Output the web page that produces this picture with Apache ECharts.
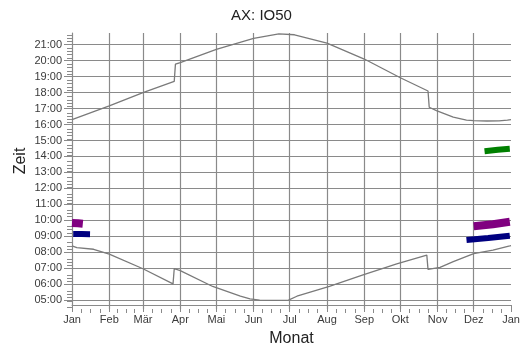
<!DOCTYPE html>
<html>
<head>
<meta charset="utf-8">
<script src="https://cdn.jsdelivr.net/npm/echarts@6/dist/echarts.min.js"></script>
<style>
html,body{margin:0;padding:0;background:#fff;}
#chart{width:523px;height:352px;}
</style>
</head>
<body>
<div id="chart"></div>
<script>
// Month axis (day of year)
const months = ['Jan','Feb','Mär','Apr','Mai','Jun','Jul','Aug','Sep','Okt','Nov','Dez','Jan'];
const monthStarts = [0,31,59,90,120,151,181,212,243,273,304,334,365];
// Hour axis
const hourTicks = [5,6,7,8,9,10,11,12,13,14,15,16,17,18,19,20,21];
const hourLabels = ['05:00','06:00','07:00','08:00','09:00','10:00','11:00','12:00','13:00','14:00','15:00','16:00','17:00','18:00','19:00','20:00','21:00'];

// Upper gray curve (sunset)
const sunsetDays  = [0, 31, 59, 85, 86, 90, 120, 151, 172, 185, 212, 243, 273, 296, 297, 303, 317, 328, 334, 345, 355, 362, 365];
const sunsetTimes = [16.31, 17.17, 18.0, 18.70, 19.78, 19.88, 20.70, 21.40, 21.67, 21.62, 21.09, 20.10, 18.93, 18.10, 17.08, 16.87, 16.46, 16.28, 16.25, 16.22, 16.23, 16.28, 16.31];

// Lower gray curve (sunrise)
const sunriseDays  = [0, 4, 18, 31, 59, 84, 85, 90, 117, 140, 148, 156, 168, 180, 187, 214, 242, 270, 295, 296, 306, 317, 334, 350, 364, 365];
const sunriseTimes = [8.40, 8.29, 8.19, 7.88, 6.97, 6.02, 6.97, 6.85, 5.86, 5.25, 5.08, 5.0, 4.99, 5.0, 5.25, 5.86, 6.59, 7.27, 7.82, 6.93, 7.06, 7.41, 7.92, 8.13, 8.40, 8.42];

// Coloured event bands
const purpleLeftDays = [0, 5, 9];
const purpleLeft     = [9.84, 9.82, 9.79];
const navyLeftDays   = [1, 8, 15];
const navyLeft       = [9.14, 9.14, 9.13];
const purpleRightDays = [334, 350, 364];
const purpleRight     = [9.63, 9.76, 9.91];
const navyRightDays   = [328, 346, 364];
const navyRight       = [8.77, 8.90, 9.04];
const greenRightDays  = [343, 354, 364];
const greenRight      = [14.33, 14.42, 14.48];

const xMinor = [];
for (let i = 0; i < 12; i++) {
  const a = monthStarts[i], len = monthStarts[i+1] - a;
  for (let k = 1; k < 4; k++) xMinor.push(a + k * len / 4);
}
const yMinor = [];
for (let i = 24; i <= 108; i++) { if (i % 5 !== 0) yMinor.push(i / 5); }

const FONT = 'Liberation Sans, Arial, sans-serif';
const GRAY = '#8a8a8a';
const YMIN = 4.7, YMAX = 21.73;
const gridRect = {left: 72, right: 12, top: 33, bottom: 43};

function pairs(xs, ys){ return xs.map((d,i)=>[d, ys[i]]); }
function band(xs, ys, color, w){
  return {type:'line', xAxisIndex:0, yAxisIndex:0, data:pairs(xs,ys), showSymbol:false, silent:true,
    lineStyle:{color:color, width:w, cap:'butt'}, z:4};
}

const chart = echarts.init(document.getElementById('chart'), null, {renderer:'canvas'});
chart.setOption({
  animation:false,
  backgroundColor:'#fff',
  title:{text:'AX: IO50', left:'center', top:3, textStyle:{fontFamily:FONT, fontSize:15, fontWeight:'normal', color:'#222'}},
  grid:[Object.assign({}, gridRect), Object.assign({}, gridRect), Object.assign({}, gridRect)],
  xAxis:[
    {gridIndex:0, type:'value', min:0, max:365, position:'bottom',
      name:'Monat', nameLocation:'middle', nameGap:26, nameMoveOverlap:false,
      nameTextStyle:{fontFamily:FONT, fontSize:16, color:'#222'},
      axisLine:{show:true, lineStyle:{color:GRAY, width:1}},
      axisTick:{show:true, customValues:monthStarts, length:7, lineStyle:{color:GRAY, width:1}},
      axisLabel:{show:true, customValues:monthStarts, margin:9, fontFamily:FONT, fontSize:11, color:'#3a3a3a',
        formatter:(v)=>{ const i = monthStarts.indexOf(Math.round(v)); return i>=0 ? months[i] : ''; }},
      splitLine:{show:false}},
    {gridIndex:1, type:'value', min:0, max:365, position:'bottom',
      axisLine:{show:false},
      axisTick:{show:true, customValues:xMinor, length:4, lineStyle:{color:GRAY, width:1}},
      axisLabel:{show:false}, splitLine:{show:false}},
    {gridIndex:2, type:'value', min:0, max:365, position:'bottom',
      axisLine:{show:false},
      axisTick:{show:false, customValues:monthStarts.slice(1,12)},
      axisLabel:{show:false},
      splitLine:{show:true, lineStyle:{color:GRAY, width:1.2}}}
  ],
  yAxis:[
    {gridIndex:0, type:'value', min:YMIN, max:YMAX, position:'left',
      name:'Zeit', nameLocation:'middle', nameGap:43, nameRotate:90, nameMoveOverlap:false,
      nameTextStyle:{fontFamily:FONT, fontSize:16, color:'#222', padding:[0,0,0,16]},
      axisLine:{show:true, lineStyle:{color:GRAY, width:1.2}},
      axisTick:{show:true, customValues:hourTicks, length:8, lineStyle:{color:GRAY, width:1}},
      axisLabel:{show:true, customValues:hourTicks, margin:10, fontFamily:FONT, fontSize:11, color:'#3a3a3a',
        formatter:(v)=>{ const i = hourTicks.indexOf(Math.round(v)); return i>=0 ? hourLabels[i] : ''; }},
      splitLine:{show:true, lineStyle:{color:GRAY, width:1.2}}},
    {gridIndex:1, type:'value', min:YMIN, max:YMAX, position:'left',
      axisLine:{show:false},
      axisTick:{show:true, customValues:yMinor, length:5, lineStyle:{color:GRAY, width:1}},
      axisLabel:{show:false}, splitLine:{show:false}},
    {gridIndex:2, type:'value', min:YMIN, max:YMAX, show:false}
  ],
  series:[
    {type:'line', xAxisIndex:0, yAxisIndex:0, data:pairs(sunsetDays, sunsetTimes), showSymbol:false, silent:true,
      lineStyle:{color:'#7a7a7a', width:1.3}, z:3},
    {type:'line', xAxisIndex:0, yAxisIndex:0, data:pairs(sunriseDays, sunriseTimes), showSymbol:false, silent:true,
      lineStyle:{color:'#7a7a7a', width:1.3}, z:3},
    band(purpleLeftDays, purpleLeft, '#800080', 8),
    band(navyLeftDays, navyLeft, '#000080', 6),
    band(purpleRightDays, purpleRight, '#800080', 8),
    band(navyRightDays, navyRight, '#000080', 6),
    band(greenRightDays, greenRight, '#008000', 6)
  ]
});
</script>
</body>
</html>
